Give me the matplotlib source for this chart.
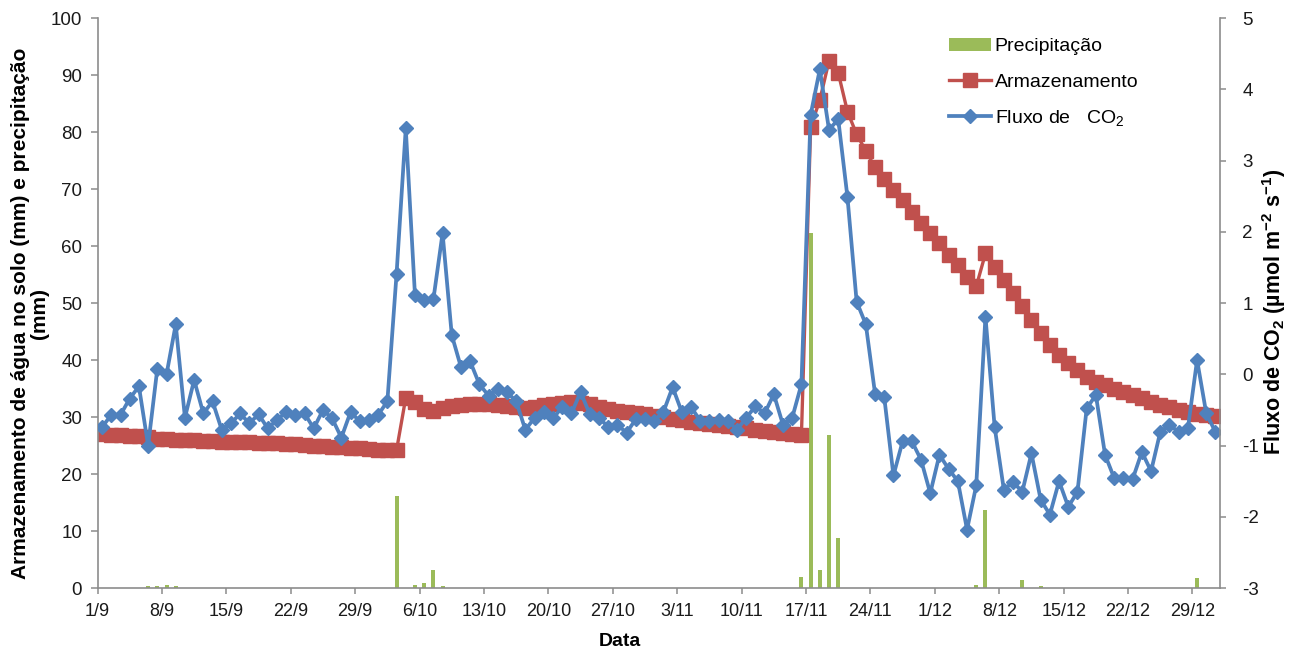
import matplotlib
matplotlib.use("Agg")

import matplotlib.pyplot as plt
import numpy as np

plt.rcParams["font.family"] = ["Liberation Sans", "DejaVu Sans"]
plt.rcParams["mathtext.fontset"] = "custom"
plt.rcParams["mathtext.rm"] = "Liberation Sans"
plt.rcParams["mathtext.it"] = "Liberation Sans:italic"
plt.rcParams["mathtext.bf"] = "Liberation Sans:bold"
plt.rcParams["axes.unicode_minus"] = False

# ── dados (1/9 a 31/12, diário) ─────────────────────────────
# fluxo de CO2 (µmol m-2 s-1), eixo direito
fluxo_co2 = [
    -0.74, -0.57, -0.57, -0.34, -0.17, -1.00, 0.08, 0.00, 0.70, -0.61,
    -0.08, -0.55, -0.38, -0.78, -0.69, -0.55, -0.69, -0.56, -0.76, -0.64,
    -0.53, -0.57, -0.55, -0.76, -0.50, -0.62, -0.89, -0.53, -0.66, -0.64,
    -0.57, -0.38, 1.41, 3.45, 1.11, 1.04, 1.05, 1.98, 0.55, 0.10,
    0.18, -0.14, -0.30, -0.21, -0.25, -0.38, -0.78, -0.61, -0.53, -0.62,
    -0.46, -0.55, -0.25, -0.56, -0.61, -0.74, -0.71, -0.82, -0.63, -0.63,
    -0.65, -0.53, -0.18, -0.53, -0.46, -0.65, -0.65, -0.64, -0.65, -0.78,
    -0.61, -0.45, -0.55, -0.28, -0.71, -0.61, -0.14, 3.64, 4.28, 3.43,
    3.58, 2.49, 1.02, 0.70, -0.27, -0.32, -1.42, -0.94, -0.94, -1.20,
    -1.67, -1.13, -1.33, -1.50, -2.18, -1.56, 0.81, -0.74, -1.62, -1.51,
    -1.65, -1.11, -1.76, -1.97, -1.50, -1.86, -1.65, -0.48, -0.29, -1.13,
    -1.46, -1.45, -1.47, -1.09, -1.36, -0.81, -0.71, -0.81, -0.76, 0.20,
    -0.55, -0.81,
]

# armazenamento de água no solo (mm), eixo esquerdo
armazenamento = [
    27.0, 26.9, 26.8, 26.7, 26.6, 26.5, 26.2, 26.1, 26.0, 25.9,
    25.9, 25.8, 25.8, 25.7, 25.7, 25.6, 25.6, 25.5, 25.4, 25.4,
    25.3, 25.2, 25.1, 25.0, 24.9, 24.8, 24.7, 24.6, 24.5, 24.4,
    24.3, 24.2, 24.2, 33.4, 32.6, 31.4, 31.0, 31.5, 32.0, 32.1,
    32.2, 32.2, 32.2, 32.1, 32.0, 31.8, 31.6, 31.8, 32.1, 32.3,
    32.5, 32.6, 32.5, 32.2, 31.8, 31.4, 31.1, 30.9, 30.7, 30.5,
    30.2, 30.0, 29.7, 29.5, 29.2, 29.0, 28.8, 28.6, 28.4, 28.2,
    28.0, 27.8, 27.6, 27.4, 27.2, 27.0, 26.8, 80.9, 85.6, 92.5,
    90.4, 83.6, 79.6, 76.7, 73.8, 71.8, 69.8, 68.0, 66.0, 64.0,
    62.2, 60.5, 58.4, 56.7, 54.6, 52.9, 58.7, 56.4, 54.0, 51.7,
    49.4, 47.0, 44.7, 42.6, 40.9, 39.4, 38.2, 37.1, 36.2, 35.6,
    35.0, 34.4, 33.9, 33.3, 32.7, 32.1, 31.7, 31.2, 30.9, 30.6,
    30.4, 30.1,
]

# precipitação (mm): dia (contado a partir de 1/9) e lâmina
chuva_dia = [5, 6, 7, 8, 32, 34, 35, 36, 37, 76, 77, 78, 79, 80, 95, 96, 100, 102, 119]
chuva_mm = [0.3, 0.3, 0.6, 0.3, 16.2, 0.6, 0.9, 3.2, 0.4, 2.0, 62.2, 3.2, 26.8, 8.7,
            0.6, 13.7, 1.4, 0.3, 1.7]

rotulos_x = ["1/9", "8/9", "15/9", "22/9", "29/9", "6/10", "13/10", "20/10", "27/10",
             "3/11", "10/11", "17/11", "24/11", "1/12", "8/12", "15/12", "22/12", "29/12"]

VERDE = "#9BBB59"
VERMELHO = "#C0504D"
AZUL = "#4F81BD"
CINZA = "#8C8C8C"

dias = np.arange(len(fluxo_co2)) + 0.5

fig = plt.figure(figsize=(12.9, 6.53), dpi=100)
ax = fig.add_axes([0.0756, 0.0995, 0.8702, 0.8729])
ax2 = ax.twinx()

barras = ax.bar(np.array(chuva_dia) + 0.5, chuva_mm, width=0.43, color=VERDE,
                label="Precipitação", zorder=1)
linha_arm, = ax.plot(dias, armazenamento, color=VERMELHO, lw=2.4, marker="s", ms=10,
                     mec=VERMELHO, label="Armazenamento", zorder=2)
linha_co2, = ax2.plot(dias, fluxo_co2, color=AZUL, lw=2.7, marker="D", ms=7.6,
                      mec=AZUL, label="Fluxo de   CO$_2$")

ax.set_xlim(0, 122)
ax.set_ylim(0, 100)
ax2.set_ylim(-3, 5)
ax.set_yticks(range(0, 101, 10))
ax2.set_yticks(range(-3, 6))
ax.set_xticks(range(0, 7 * len(rotulos_x), 7))
ax.set_xticklabels(rotulos_x)

for a in (ax, ax2):
    for s in a.spines.values():
        s.set_visible(False)
ax.spines["left"].set_visible(True)
ax.spines["bottom"].set_visible(True)
ax2.spines["right"].set_visible(True)
for s in (ax.spines["left"], ax.spines["bottom"], ax2.spines["right"]):
    s.set_color(CINZA)
    s.set_linewidth(1.2)

ax.tick_params(axis="x", direction="out", length=4.5, width=1.1, color=CINZA,
               labelsize=13, pad=6, labelcolor="#1a1a1a")
ax.tick_params(axis="y", direction="out", length=5, width=1.1, color=CINZA,
               labelsize=13.5, pad=6, labelcolor="#1a1a1a")
ax2.tick_params(axis="y", direction="out", length=4, width=1.1, color=CINZA,
                labelsize=13.5, pad=12, labelcolor="#1a1a1a")

ax.set_ylabel("Armazenamento de água no solo (mm) e precipitação\n(mm)",
              fontsize=15, fontweight="bold", linespacing=1.0)
ax.yaxis.set_label_coords(-0.043, 0.482)
ax2.set_ylabel(r"Fluxo de CO$_\mathbf{2}$ (µmol m$^{\mathbf{-2}}$ s$^{\mathbf{-1}}$)",
               fontsize=15.5, fontweight="bold", rotation=90)
ax2.yaxis.set_label_coords(1.0356, 0.485)
ax.set_xlabel("Data", fontsize=14, fontweight="bold")
ax.xaxis.set_label_coords(0.4655, -0.079)

ax2.legend([barras, linha_arm, linha_co2],
           ["Precipitação", "Armazenamento", "Fluxo de   CO$_2$"],
           loc="upper left", bbox_to_anchor=(0.7357, 0.942),
           bbox_transform=fig.transFigure, frameon=False, fontsize=14,
           handlelength=2.15, handletextpad=0.2, labelspacing=0.9,
           borderpad=0, borderaxespad=0)

plt.savefig("out.png", dpi=100)
plt.close(fig)
